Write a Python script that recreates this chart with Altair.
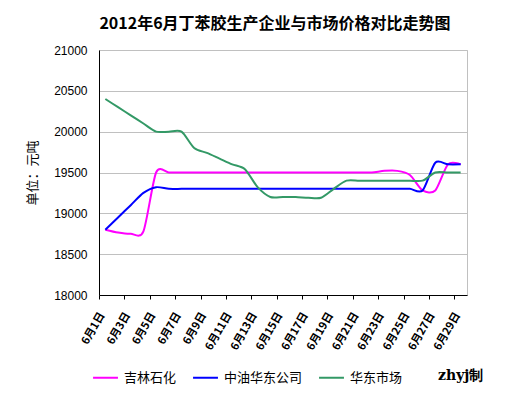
import altair as alt
import pandas as pd

days = [1, 2, 3, 4, 5, 6, 7, 8, 9, 10, 11, 12, 13, 14, 15, 16, 17, 18, 19, 20,
        21, 22, 23, 24, 25, 26, 27, 28, 29]
series_names = ["吉林石化", "中油华东公司", "华东市场"]
colors = ["#FF00FF", "#0000FF", "#339966"]

jilin = [18800, 18765, 18750, 18780, 19500, 19500, 19500, 19500, 19500, 19500,
         19500, 19500, 19500, 19500, 19500, 19500, 19500, 19500, 19500, 19500,
         19500, 19500, 19520, 19520, 19470, 19280, 19280, 19600, 19600]
zhongyou = [18800, 18950, 19100, 19250, 19320, 19300, 19300, 19300, 19300, 19300,
            19300, 19300, 19300, 19300, 19300, 19300, 19300, 19300, 19300, 19300,
            19300, 19300, 19300, 19300, 19300, 19280, 19620, 19600, 19600]
huadong = [20400, 20300, 20200, 20100, 20000, 20000, 20000, 19800, 19740, 19670,
           19600, 19540, 19320, 19200, 19200, 19200, 19190, 19190, 19300, 19400,
           19400, 19400, 19400, 19400, 19400, 19400, 19500, 19500, 19500]

y_ticks = [18000, 18500, 19000, 19500, 20000, 20500, 21000]
x_tick_positions = [0.5, 2.5, 4.5, 6.5, 8.5, 10.5, 12.5, 14.5, 16.5, 18.5,
                    20.5, 22.5, 24.5, 26.5, 28.5]

rows = []
for name, vals in zip(series_names, [jilin, zhongyou, huadong]):
    for d, v in zip(days, vals):
        rows.append({"day": d, "price": v, "series": name})
df = pd.DataFrame(rows)

cjk = "Noto Sans CJK SC"

lines = alt.Chart(df).mark_line(strokeWidth=2, interpolate="cardinal", tension=0.2).encode(
    x=alt.X("day:Q",
            scale=alt.Scale(domain=[0.5, 29.5], nice=False, zero=False),
            axis=alt.Axis(values=x_tick_positions, title=None, grid=False,
                          labelExpr="'6月' + (datum.value + 0.5) + '日'",
                          labelAngle=-60, labelAlign="right", labelBaseline="middle",
                          labelFont=cjk, labelFontWeight="bold", labelFontSize=11,
                          labelOffset=3, labelPadding=14, tickSize=4,
                          domainColor="black", tickColor="black",
                          labelColor="black", labelOverlap=False)),
    y=alt.Y("price:Q",
            scale=alt.Scale(domain=[18000, 21000], nice=False, zero=False),
            axis=alt.Axis(values=y_ticks, title="单位：元吨", grid=True, format="d",
                          gridColor="#C0C0C0", ticks=False, domainColor="black",
                          labelFont="Liberation Sans", labelFontSize=12,
                          labelColor="black", labelPadding=12,
                          titleFont=cjk, titleFontSize=13, titleFontWeight="normal",
                          titleColor="black", titlePadding=14)),
    color=alt.Color("series:N",
                    scale=alt.Scale(domain=series_names, range=colors),
                    legend=alt.Legend(title=None, orient="none", legendX=-7, legendY=314,
                                      direction="horizontal", symbolType="stroke",
                                      symbolStrokeWidth=2, symbolSize=620,
                                      labelFont=cjk, labelFontSize=13, labelColor="black",
                                      columnPadding=12, labelOffset=5)),
)

note = alt.Chart(pd.DataFrame({"t": ["zhyj制"]})).mark_text(
    align="left", baseline="middle", font="DejaVu Serif", fontWeight="bold",
    fontSize=14, color="black"
).encode(text="t:N", x=alt.value(339), y=alt.value(326))

chart = alt.layer(lines, note).properties(
    width=368, height=245,
    title=alt.TitleParams("2012年6月丁苯胶生产企业与市场价格对比走势图",
                          font=cjk, fontSize=16, fontWeight="bold", color="black",
                          anchor="middle", dx=-8, offset=12),
    autosize=alt.AutoSizeParams(type="none"),
    padding={"left": 91, "top": 42, "right": 40, "bottom": 92},
).configure_view(stroke="#C0C0C0", strokeWidth=1)

chart.save("out.html", embed_options={"renderer": "svg", "actions": False})
